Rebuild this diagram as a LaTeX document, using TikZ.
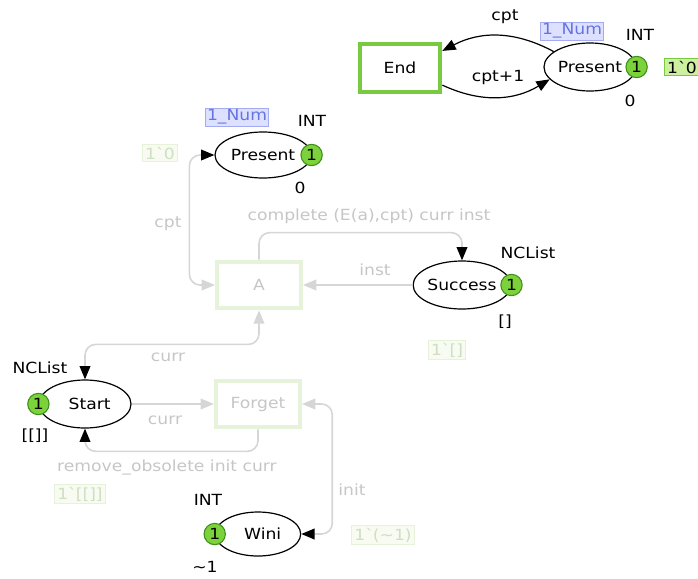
\documentclass[tikz,border=0pt]{standalone}
\usepackage{fontspec}
\setmainfont{DejaVu Sans}[FakeStretch=1.12]
\usetikzlibrary{arrows.meta, positioning, calc, shapes.geometric}
\definecolor{tokgreen}{HTML}{7CD23A}
\definecolor{tokedge}{HTML}{3E8E1A}
\definecolor{trgreen}{HTML}{7AC943}
\definecolor{fadegreen}{HTML}{E6F2DA}
\definecolor{fadefill}{HTML}{F7FBF2}
\definecolor{fadetext}{HTML}{CFDFC1}
\definecolor{arcgray}{HTML}{D6D6D6}
\definecolor{txtgray}{HTML}{C6C6C6}
\definecolor{numfill}{HTML}{DDE1FF}
\definecolor{numedge}{HTML}{A3ABF2}
\definecolor{numtext}{HTML}{6674E0}
\definecolor{markfill}{HTML}{CDEFA0}

\begin{document}
\begin{tikzpicture}[x=0.75pt, y=-0.75pt, font=\fontsize{11.5}{13}\selectfont,
  place/.style={ellipse, draw, line width=0.9pt, inner sep=0pt},
  token/.style={circle, draw=tokedge, fill=tokgreen, line width=0.8pt, inner sep=0pt, minimum size=16pt},
  trans/.style={rectangle, draw=trgreen, line width=3.5pt, fill=white, minimum width=60pt, minimum height=36pt},
  fadetrans/.style={rectangle, draw=fadegreen, line width=3pt, fill=white, text=txtgray, minimum width=63pt, minimum height=35pt},
  numbox/.style={rectangle, draw=numedge, fill=numfill, text=numtext, line width=0.6pt, inner sep=1.2pt},
  fademark/.style={rectangle, draw=fadegreen, fill=fadefill, text=fadetext, line width=0.8pt, inner sep=2pt},
  arc/.style={draw=arcgray, line width=1.2pt, rounded corners=8pt},
  lbl/.style={text=txtgray}]
\useasboundingbox (0,0) rectangle (698,578);

% top: End and Present
\node[trans] (end) at (400,68) {End};
\node[place, minimum width=69pt, minimum height=36pt] (pres1) at (590,67) {Present\hspace{7pt}};
\node[token] (tok1) at (pres1.east) {1};
\node[numbox] (num1) at (572,31) {1\_Num};
\node (int1) at (640,35) {INT};
\node (init1) at (630,101) {0};
\node[rectangle, draw=trgreen, fill=markfill, line width=0.8pt, inner sep=2pt, anchor=west] (mark1) at (664,67) {1\textasciigrave0};
\draw[line width=0.9pt, -{Triangle[length=10pt, width=8pt]}] (pres1.157) to[bend right=28] (end.22);
\draw[line width=0.9pt, -{Triangle[length=10pt, width=8pt]}] (end.-22) to[bend right=28] (pres1.197);
\node (cpt1) at (505,17) {cpt};
\node (cptp) at (498,78) {cpt+1};

% middle: Present, A, Success
\node[place, minimum width=72pt, minimum height=34.5pt] (pres2) at (263,155) {Present\hspace{7pt}};
\node[token] (tok2) at (pres2.east) {1};
\node[numbox] (num2) at (237,117) {1\_Num};
\node (int2) at (312,121) {INT};
\node (init2) at (300,188) {0};
\node[fademark] (mark2) at (160,153) {1\textasciigrave0};

\node[fadetrans] (A) at (259,285) {A};

\node[place, minimum width=72pt, minimum height=36pt] (succ) at (462,285) {Success\hspace{7pt}};
\node[token] (tok3) at (succ.east) {1};
\node (ncl1) at (528,253) {NCList};
\node (init3) at (505,322) {[]};
\node[fademark] (mark3) at (447,350) {1\textasciigrave[]};

\draw[arc, {Triangle[black, length=10pt, width=8pt]}-{Triangle[length=10pt, width=8pt]}] (pres2.west) -- ++(-25,0) |- (A.west);
\draw[arc, -{Triangle[black, length=10pt, width=8pt]}] (A.north) -- ++(0,-27) -| (succ.north);
\draw[arc, -{Triangle[length=10pt, width=8pt]}] (succ.west) -- (A.east);
\node[lbl] (cpt2) at (168,224) {cpt};
\node[lbl] (compl) at (369,216) {complete (E(a),cpt) curr inst};
\node[lbl] (inst) at (375,270) {inst};

% bottom: Start, Forget, Wini
\node[place, minimum width=69pt, minimum height=36pt] (start) at (85,404) {\hspace{7pt}Start};
\node[token] (tok4) at (start.west) {1};
\node (ncl2) at (40,368) {NCList};
\node (init4) at (35,436) {[[]]};
\node[fademark] (mark4) at (80,494) {1\textasciigrave[[]]};

\node[fadetrans] (forget) at (258,404) {Forget};

\node[place, minimum width=64pt, minimum height=33pt] (wini) at (258,534) {\hspace{7pt}Wini};
\node[token] (tok5) at (wini.west) {1};
\node (int3) at (208,500) {INT};
\node (init5) at (205,567) {\textasciitilde1};
\node[fademark] (mark5) at (383,535) {1\textasciigrave(\textasciitilde1)};

\draw[arc, {Triangle[black, length=10pt, width=8pt]}-{Triangle[length=10pt, width=8pt]}] (start.north) -- ++(0,-35) -| (A.south);
\draw[arc, -{Triangle[length=10pt, width=8pt]}] (start.east) -- (forget.west);
\draw[arc, -{Triangle[black, length=10pt, width=8pt]}] (forget.south) -- ++(0,22) -| (start.south);
\draw[arc, {Triangle[black, length=10pt, width=8pt]}-{Triangle[length=10pt, width=8pt]}] (wini.east) -- ++(31,0) |- (forget.east);
\node[lbl] (curr1) at (168,357) {curr};
\node[lbl] (curr2) at (165,420) {curr};
\node[lbl] (remove) at (167,467) {remove\_obsolete init curr};
\node[lbl] (initl) at (352,490) {init};
\end{tikzpicture}
\end{document}
